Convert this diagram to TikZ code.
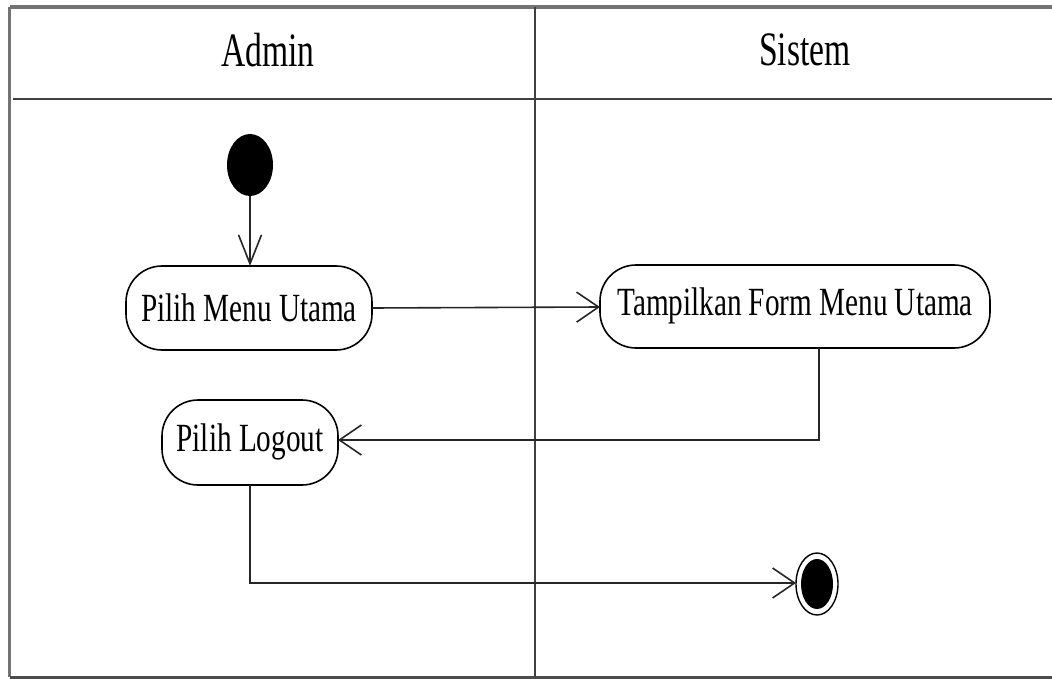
\documentclass[tikz,border=0pt]{standalone}
\usepackage{fontspec}
\setmainfont{Liberation Serif}
\usetikzlibrary{arrows.meta}
\begin{document}
\begin{tikzpicture}[x=1pt,y=-1pt,
  frame/.style={draw=black!55,line width=3.5pt},
  lane/.style={draw=black!75,line width=2pt},
  act/.style={draw=black,line width=1.6pt,rounded corners=36pt,minimum height=84pt,inner sep=0pt},
  acttext/.style={xscale=0.73,font=\fontsize{40}{45}\selectfont},
  head/.style={xscale=0.70,font=\fontsize{48}{52}\selectfont},
  flow/.style={draw=black!85,line width=1.6pt},
  harrow/.style={flow,-{Straight Barb[length=22pt,width=30pt,line width=1.6pt]}},
  varrow/.style={flow,-{Straight Barb[length=29pt,width=23pt,line width=1.6pt]}},
]
\useasboundingbox (0,0) rectangle (1052,679);
% frame
\draw[frame] (9.5,7) -- (1052,7);
\draw[frame] (9.5,7) -- (9.5,677);
\draw[draw=black!70,line width=3pt] (9.5,677) -- (1052,677);
\draw[lane] (13,99) -- (1052,99);
\draw[lane] (535,7) -- (535,677);
% headers
\node[head] (hA) at (268,50) {Admin};
\node[head] (hS) at (805,50) {Sistem};
% start
\fill[black] (250,165) ellipse [x radius=23, y radius=31];
\coordinate (start) at (250,196);
% activities
\draw[act] (126,266) rectangle (372,350);
\node[acttext] (pmu) at (249,308) {Pilih Menu Utama};
\coordinate (pmuT) at (250,266);
\coordinate (pmuR) at (372,308);
\draw[act] (600,265) rectangle (990,348);
\node[acttext] (tfmu) at (795,306) {Tampilkan Form Menu Utama};
\coordinate (tfmuL) at (600,307);
\coordinate (tfmuB) at (819,348);
\draw[act] (162,400) rectangle (338,485);
\node[acttext] (pl) at (250,442) {Pilih Logout};
\coordinate (plR) at (338,440);
\coordinate (plB) at (250,485);
% end
\draw[black,line width=1.4pt] (817,584) ellipse [x radius=21, y radius=31];
\fill[black] (817,584) ellipse [x radius=16, y radius=25];
\coordinate (endL) at (796,583);
% flows
\draw[varrow] (start) -- (pmuT);
\draw[harrow] (pmuR) -- (tfmuL);
\draw[harrow] (tfmuB) |- (plR);
\draw[harrow] (plB) |- (endL);
\end{tikzpicture}
\end{document}
